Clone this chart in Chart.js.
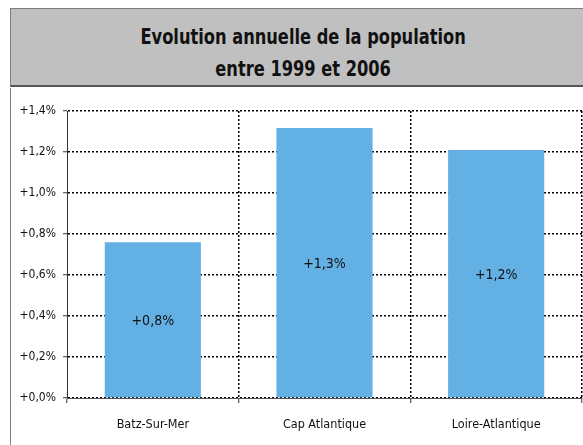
<!DOCTYPE html>
<html>
<head>
<meta charset="utf-8">
<script src="https://cdn.jsdelivr.net/npm/chart.js@4/dist/chart.umd.min.js"></script>
<style>
  body { margin: 0; background: #fff; width: 583px; height: 445px; overflow: hidden; position: relative; }
  #title {
    position: absolute; left: 10px; top: 8px; width: 586px; height: 79px;
    background: #c0c0c0; border: 1px solid #7f7f7f; border-bottom: 2px solid #555;
    font-family: "Liberation Sans Narrow", "DejaVu Sans Condensed", sans-serif;
    font-weight: bold; font-size: 21px; color: #111; text-align: center;
    line-height: 32px; padding-top: 12px; box-sizing: border-box;
  }
  #title span { display: inline-block; transform: scaleX(0.86); white-space: nowrap; }
  #box {
    position: absolute; left: 10px; top: 88px; width: 573px; height: 357px;
    border-left: 1px solid #7f7f7f; box-sizing: border-box;
  }
</style>
</head>
<body>
<div id="title"><span>Evolution annuelle de la population<br>entre 1999 et 2006</span></div>
<div id="box"><canvas id="chart"></canvas></div>
<script>
const font = '"Liberation Sans Narrow", "DejaVu Sans Condensed", sans-serif'
const categories = ['Batz-Sur-Mer', 'Cap Atlantique', 'Loire-Atlantique']
const evolution = [0.76, 1.317, 1.21]
const yTicks = [0, 0.2, 0.4, 0.6, 0.8, 1.0, 1.2, 1.4]

const pct = (v) => '+' + v.toFixed(1).replace('.', ',') + '%'

// valeurs affichées au milieu des barres
const barLabels = {
    id: 'barLabels',
    afterDatasetsDraw(chart) {
        const ctx = chart.ctx
        const meta = chart.getDatasetMeta(0)
        ctx.save()
        ctx.font = '14px ' + font
        ctx.fillStyle = '#111'
        ctx.textAlign = 'center'
        ctx.textBaseline = 'middle'
        meta.data.forEach((bar, i) => {
            ctx.fillText(pct(evolution[i]), bar.x, (bar.y + bar.base) / 2 + 2)
        })
        ctx.restore()
    }
}

new Chart(document.getElementById('chart'), {
    type: 'bar',
    data: {
        labels: categories,
        datasets: [{
            data: evolution,
            backgroundColor: '#63b0e4',
            categoryPercentage: 1,
            barPercentage: 0.56
        }]
    },
    options: {
        responsive: true,
        maintainAspectRatio: false,
        animation: false,
        layout: { padding: { top: 23, right: 1, left: 0, bottom: 0 } },
        plugins: {
            legend: { display: false },
            tooltip: { enabled: false }
        },
        scales: {
            x: {
                grid: {
                    offset: true,
                    color: (c) => c.index === 0 ? 'rgba(0,0,0,0)' : '#000',
                    lineWidth: 1.5,
                    tickLength: 5,
                    tickColor: '#333',
                    tickWidth: 1,
                    tickBorderDash: []
                },
                border: { color: '#555', dash: [2, 2] },
                ticks: {
                    color: '#111',
                    padding: 14,
                    font: { family: font, size: 12.5 }
                },
                afterFit(scale) { scale.height = 47 }
            },
            y: {
                min: 0,
                max: 1.4,
                afterBuildTicks(scale) {
                    scale.ticks = yTicks.map(v => ({ value: v }))
                },
                grid: {
                    color: '#000',
                    lineWidth: 1.5,
                    tickLength: 4,
                    tickColor: '#333',
                    tickWidth: 1,
                    tickBorderDash: []
                },
                border: { color: '#333', dash: [2, 2] },
                ticks: {
                    color: '#111',
                    padding: 7,
                    font: { family: font, size: 12 },
                    callback: (v) => pct(v)
                },
                afterFit(scale) { scale.width = 56 }
            }
        }
    },
    plugins: [barLabels]
})
</script>
</body>
</html>
